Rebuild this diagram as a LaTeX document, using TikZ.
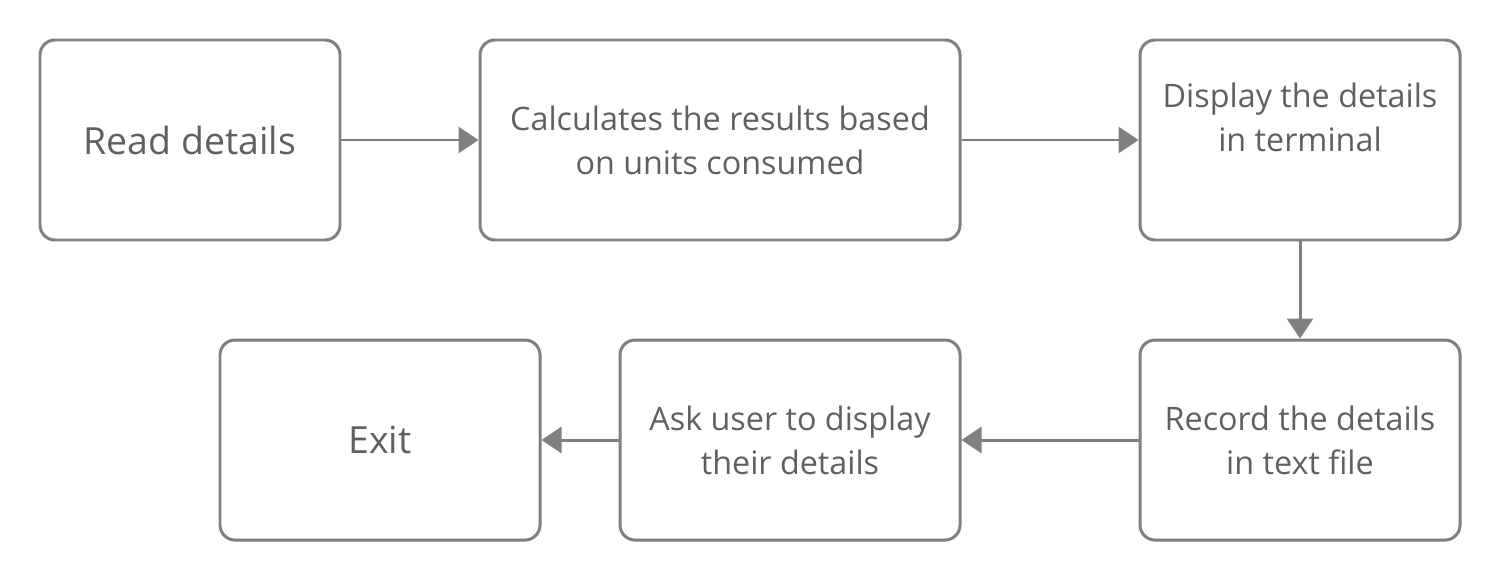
\documentclass[tikz,border=0pt]{standalone}
\usepackage{fontspec}
\setmainfont{Open Sans}
\usetikzlibrary{arrows.meta}
\definecolor{boxgray}{RGB}{128,128,128}
\definecolor{textgray}{RGB}{96,96,96}
\begin{document}
\begin{tikzpicture}[line width=1.7pt, draw=boxgray,
  step box/.style={rectangle,draw=boxgray,rounded corners=0.3cm,minimum height=4cm,align=center,text=textgray,font=\fontsize{18.4}{25}\selectfont},
  big text/.style={font=\fontsize{21.3}{25}\selectfont},
  flow/.style={draw=boxgray,-{Triangle[length=0.4cm,width=0.52cm]}}]
\useasboundingbox (0,0) rectangle (30,-11.6);
\begin{scope}
\node[step box,big text,minimum width=6cm] (read) at (3.8,-2.8) {Read details};
\node[step box,minimum width=9.6cm] (calc) at (14.4,-2.8) {Calculates the results based\\on units consumed};
\node[step box,minimum width=6.4cm,text depth=0.9cm] (show) at (26,-2.8) {Display the details\\in terminal};
\node[step box,minimum width=6.4cm] (record) at (26,-8.8) {Record the details\\in text file};
\node[step box,minimum width=6.8cm] (ask) at (15.8,-8.8) {Ask user to display\\their details};
\node[step box,big text,minimum width=6.4cm] (exit) at (7.6,-8.8) {Exit};
%\node[step box] () at (,) {};
\end{scope}
\begin{scope}
\draw[flow] (read) -- (calc);
\draw[flow] (calc) -- (show);
\draw[flow] (show) -- (record);
\draw[flow] (record) -- (ask);
\draw[flow] (ask) -- (exit);
\end{scope}
\end{tikzpicture}
\end{document}
